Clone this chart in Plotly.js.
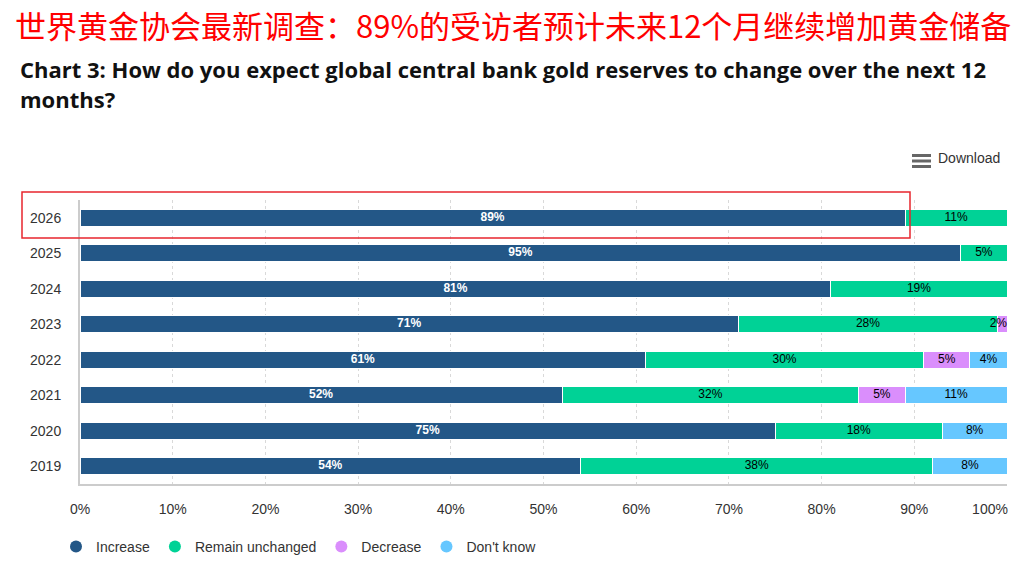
<!DOCTYPE html>
<html><head><meta charset="utf-8">
<script src="https://cdn.plot.ly/plotly-3.0.1.min.js"></script>
<style>html,body{margin:0;padding:0;background:#fff;}#chart{width:1026px;height:564px;}</style>
</head><body><div id="chart"></div>
<script>
// ---- data ----
const years = ['2026','2025','2024','2023','2022','2021','2020','2019'];
const increase = [89,95,81,71,61,52,75,54];
const remainUnchanged = [11,5,19,28,30,32,18,38];
const decrease = [null,null,null,2,5,5,null,null];
const dontKnow = [null,null,null,null,4,11,8,8];
const seriesNames = ['Increase','Remain unchanged','Decrease',"Don't know"];
const xTickVals = [0,10,20,30,40,50,60,70,80,90];
const xTickText = xTickVals.map(v => v + '%');
const xEndTickVals = [100];
const xEndTickText = xEndTickVals.map(v => v + '%');
const titleCn = '世界黄金协会最新调查：89%的受访者预计未来12个月继续增加黄金储备';
const subtitleLines = ['Chart 3: How do you expect global central bank gold reserves to change over the next 12', 'months?'];
const downloadLabel = 'Download';

// ---- styles ----
const colors = ['#235787', '#00d296', '#da8efc', '#66c7ff'];
const labelColors = ['#ffffff', '#000000', '#000000', '#000000'];
const labelWeights = ['bold', 'normal', 'normal', 'normal'];
const L = 80, R = 1007, T = 200, B = 484;
const px = x => (x - L) / (R - L);
const py = y => (B - y) / (B - T);
const FONT = 'Liberation Sans, Arial, sans-serif';

const series = [increase, remainUnchanged, decrease, dontKnow];
const traces = [];
series.forEach((arr, si) => {
  traces.push({
    type: 'bar', orientation: 'h', y: years, x: arr, name: seriesNames[si],
    marker: {color: colors[si], line: {color: '#ffffff', width: 1}},
    showlegend: false, hoverinfo: 'skip', textposition: 'none'
  });
});
// labels
const cum = years.map(() => 0);
series.forEach((arr, si) => {
  const xs = [], ys = [], ts = [], pos = [];
  arr.forEach((v, i) => {
    if (v == null) return;
    const start = cum[i], end = cum[i] + v;
    cum[i] = end;
    const visEnd = Math.min(end, 100);
    if (visEnd >= 100 && visEnd - start < 2.2) {
      xs.push(100); pos.push('middle left');
    } else {
      xs.push((start + visEnd) / 2); pos.push('middle center');
    }
    ys.push(years[i]); ts.push(v + '%');
  });
  traces.push({
    type: 'scatter', mode: 'text', x: xs, y: ys, text: ts, textposition: pos,
    textfont: {family: FONT, size: 12, color: labelColors[si], weight: labelWeights[si]},
    showlegend: false, hoverinfo: 'skip', cliponaxis: false
  });
});
// legend entries (circles)
seriesNames.forEach((n, si) => {
  traces.push({
    type: 'scatter', mode: 'markers', x: [null], y: [null], name: n,
    marker: {color: colors[si], size: 12, symbol: 'circle'},
    showlegend: true, hoverinfo: 'skip'
  });
});
// end tick label axis carrier
traces.push({type: 'scatter', mode: 'markers', x: [null], y: [null], xaxis: 'x2', showlegend: false, hoverinfo: 'skip'});

const layout = {
  width: 1026, height: 564,
  margin: {l: L, r: 1026 - R, t: T, b: 564 - B, pad: 0, autoexpand: false},
  paper_bgcolor: '#ffffff', plot_bgcolor: '#ffffff',
  barmode: 'stack', bargap: 0.52,
  showlegend: true,
  font: {family: FONT, color: '#333333', size: 14},
  xaxis: {
    range: [0, 100], fixedrange: true, tickvals: xTickVals.concat([100]), ticktext: xTickText.concat(['']),
    showgrid: true, gridcolor: '#d9d9d9', griddash: 'dot', gridwidth: 1,
    zeroline: false, showline: true, linecolor: '#cccccc', linewidth: 2,
    ticks: '', ticklabelstandoff: 11,
    tickfont: {family: FONT, size: 14, color: '#333333'}
  },
  xaxis2: {
    overlaying: 'x', side: 'bottom', anchor: 'y', range: [0, 100], fixedrange: true,
    tickvals: xEndTickVals, ticktext: xEndTickText, ticklabelshift: -17,
    showgrid: false, zeroline: false, showline: true, linecolor: 'rgba(0,0,0,0)', linewidth: 2,
    ticks: '', ticklabelstandoff: 11,
    tickfont: {family: FONT, size: 14, color: '#333333'}
  },
  yaxis: {
    type: 'category', categoryorder: 'array', categoryarray: years, autorange: 'reversed',
    fixedrange: true, showgrid: false, zeroline: false,
    showline: true, linecolor: '#cccccc', linewidth: 2,
    ticks: '', ticklabelstandoff: 14,
    tickfont: {family: FONT, size: 14, color: '#333333'}
  },
  legend: {
    orientation: 'h', traceorder: 'normal', x: px(56), xanchor: 'left', y: py(547), yanchor: 'middle',
    font: {family: FONT, size: 14, color: '#333333'},
    itemclick: false, itemdoubleclick: false, bgcolor: 'rgba(0,0,0,0)'
  },
  annotations: [
    {text: titleCn, xref: 'paper', yref: 'paper', x: px(512.5), y: py(24.5), xanchor: 'center', yanchor: 'middle',
     showarrow: false, font: {family: 'Noto Sans CJK SC, sans-serif', size: 31, color: '#ff0000'}},
    {text: subtitleLines[0], xref: 'paper', yref: 'paper', x: px(18), y: py(68.5), xanchor: 'left', yanchor: 'middle',
     showarrow: false, font: {family: 'Open Sans, Noto Sans, sans-serif', size: 22, color: '#111111', weight: 'bold'}},
    {text: subtitleLines[1], xref: 'paper', yref: 'paper', x: px(18), y: py(98.5), xanchor: 'left', yanchor: 'middle',
     showarrow: false, font: {family: 'Open Sans, Noto Sans, sans-serif', size: 22, color: '#111111', weight: 'bold'}},
    {text: downloadLabel, xref: 'paper', yref: 'paper', x: px(1002), y: py(158), xanchor: 'right', yanchor: 'middle',
     showarrow: false, font: {family: FONT, size: 14, color: '#333333'}}
  ],
  shapes: [
    {type: 'line', xref: 'paper', yref: 'paper', x0: px(912), x1: px(931), y0: py(155.5), y1: py(155.5), line: {color: '#666666', width: 3}},
    {type: 'line', xref: 'paper', yref: 'paper', x0: px(912), x1: px(931), y0: py(161), y1: py(161), line: {color: '#666666', width: 3}},
    {type: 'line', xref: 'paper', yref: 'paper', x0: px(912), x1: px(931), y0: py(166.5), y1: py(166.5), line: {color: '#666666', width: 3}},
    {type: 'rect', xref: 'paper', yref: 'paper', x0: px(22), x1: px(910), y0: py(192), y1: py(238), line: {color: '#e8262e', width: 1.5}, fillcolor: 'rgba(0,0,0,0)'}
  ]
};

Plotly.newPlot('chart', traces, layout, {displayModeBar: false, staticPlot: true});
</script>
</body></html>
